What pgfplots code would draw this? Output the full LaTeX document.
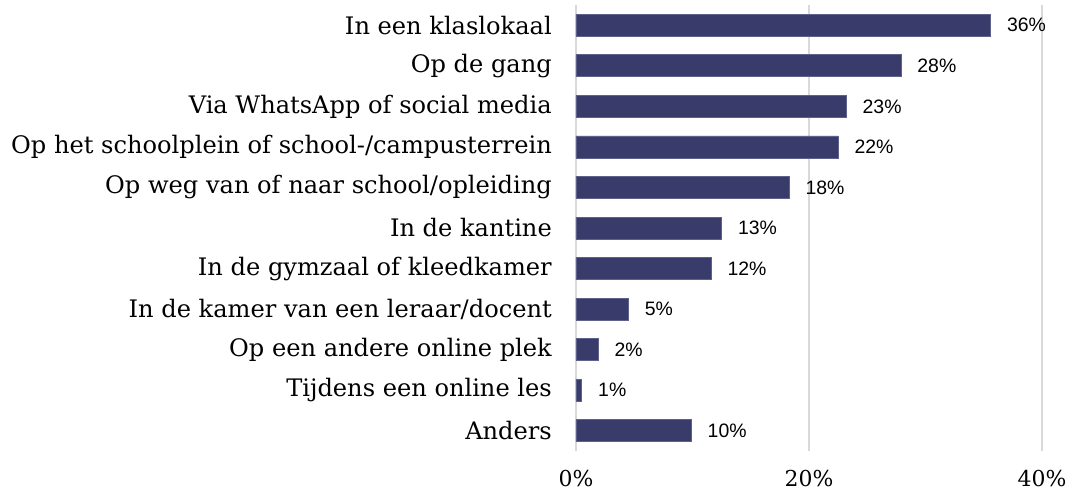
\documentclass[border=0pt]{standalone}
\usepackage{fontspec}
\setmainfont{DejaVu Serif}
\newfontfamily\valfont{Liberation Sans}
\usepackage{pgfplots}
\pgfplotsset{compat=1.18}

\definecolor{barnavy}{HTML}{393C6A}
\definecolor{baredge}{HTML}{5E618A}
\definecolor{gridgray}{HTML}{D9D9D9}

% y = position from the top, x = share, lab = printed value
\pgfplotstableread{
y x lab
0 35.6 36
1 27.9 28
2 23.2 23
3 22.5 22
4 18.3 18
5 12.5 13
6 11.6 12
7 4.5 5
8 1.9 2
9 0.5 1
10 9.9 10
}\places

\begin{document}
\begin{tikzpicture}
\begin{axis}[
  scale only axis,
  width=466bp, height=446bp,
  xbar, bar width=22bp,
  xmin=0, xmax=40,
  ymin=-0.5, ymax=10.5,
  y dir=reverse,
  xtick={0,20,40},
  xticklabels={0\%,20\%,40\%},
  ytick={0,...,10},
  yticklabels={
    In een klaslokaal,
    Op de gang,
    Via WhatsApp of social media,
    Op het schoolplein of school-/campusterrein,
    Op weg van of naar school/opleiding,
    In de kantine,
    In de gymzaal of kleedkamer,
    In de kamer van een leraar/docent,
    Op een andere online plek,
    Tijdens een online les,
    Anders},
  axis line style={draw=none},
  major tick length=0pt,
  xmajorgrids,
  major grid style={gridgray, line width=2bp},
  yticklabel style={font=\fontsize{24.2}{28}\selectfont, inner sep=0pt, xshift=-24bp, anchor=east},
  xticklabel style={font=\fontsize{22}{26}\selectfont, inner sep=0pt, yshift=-19bp, anchor=north},
  nodes near coords={\pgfplotspointmeta\%},
  point meta=explicit symbolic,
  every node near coord/.append style={font=\valfont\fontsize{19.5}{22}\selectfont, inner sep=0pt, xshift=16bp, anchor=west, black},
  clip=false,
]
\addplot[fill=barnavy, draw=baredge, line width=0.8bp] table[x=x, y=y, meta=lab] {\places};
\end{axis}
\path (-576bp,-40bp) rectangle (513bp,451bp);
\end{tikzpicture}
\end{document}
